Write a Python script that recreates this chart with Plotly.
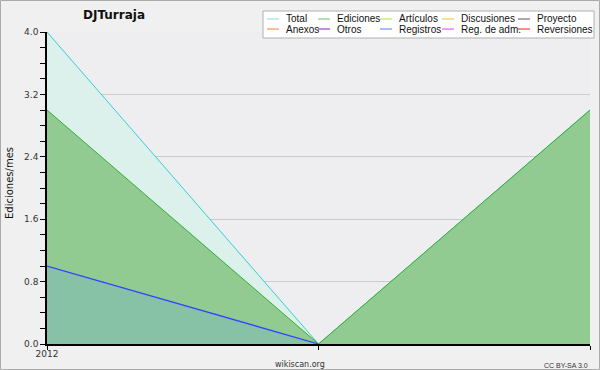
import plotly.graph_objects as go

periods = [0, 1, 2]
period_labels = ["2012", "", ""]
total = [4.0, 0.0, 3.0]
ediciones = [3.0, 0.0, 3.0]
registros = [1.0, 0.0, None]

legend_names = ["Total", "Ediciones", "Artículos", "Discusiones", "Proyecto",
                "Anexos", "Otros", "Registros", "Reg. de adm.", "Reversiones"]
legend_colors = ["#7fdede", "#66c266", "#b8e030", "#f0c020", "#555555",
                 "#f08030", "#8020d0", "#6070f0", "#e040e0", "#f02020"]

W, H = 600, 370
L, R, T, B = 47, 10, 32, 26
PW, PH = W - L - R, H - T - B


def px(x):
    return (x - L) / PW


def py(y):
    return (H - B - y) / PH


fig = go.Figure()
fig.add_trace(go.Scatter(x=periods, y=total, mode="lines", fill="tozeroy",
                         line=dict(color="#30d0d0", width=1),
                         fillcolor="#dcf1eb", showlegend=False))
fig.add_trace(go.Scatter(x=periods, y=ediciones, mode="lines", fill="tozeroy",
                         line=dict(color="#30b030", width=1),
                         fillcolor="#92cb92", showlegend=False))
fig.add_trace(go.Scatter(x=periods, y=registros, mode="lines", fill="tozeroy",
                         line=dict(color="#3344ff", width=1.3),
                         fillcolor="#88c2a6", showlegend=False))

shapes = []
annotations = []
# outer border
shapes.append(dict(type="rect", xref="paper", yref="paper",
                   x0=px(0.5), x1=px(W - 0.5), y0=py(H - 0.5), y1=py(0.5),
                   line=dict(color="#aaaaaa", width=1), fillcolor="rgba(0,0,0,0)",
                   layer="above"))
# legend box
shapes.append(dict(type="rect", xref="paper", yref="paper",
                   x0=px(263), x1=px(594), y0=py(38), y1=py(11),
                   line=dict(color="#b0b0b0", width=1), fillcolor="#ffffff",
                   layer="above"))
col_line_x = [267, 318, 380, 442, 518]
row_y = [19, 29]
for i, (name, col) in enumerate(zip(legend_names, legend_colors)):
    r, c = divmod(i, 5)
    x0 = col_line_x[c]
    y = row_y[r]
    shapes.append(dict(type="line", xref="paper", yref="paper",
                       x0=px(x0), x1=px(x0 + 12), y0=py(y), y1=py(y),
                       line=dict(color=col, width=1), layer="above"))
    annotations.append(dict(text=name, xref="paper", yref="paper",
                            x=px(x0 + 17), y=py(y), xanchor="left", yanchor="middle",
                            showarrow=False,
                            font=dict(family="Liberation Sans", size=10, color="#111111")))

annotations += [
    dict(text="<b>DJTurraja</b>", xref="paper", yref="paper", x=px(114), y=py(15),
         xanchor="center", yanchor="middle", showarrow=False,
         font=dict(size=12, color="#111111")),
    dict(text="Ediciones/mes", xref="paper", yref="paper", x=px(10), y=py(183),
         xanchor="center", yanchor="middle", textangle=-90, showarrow=False,
         font=dict(size=10, color="#111111")),
    dict(text="wikiscan.org", xref="paper", yref="paper", x=px(300), y=py(364),
         xanchor="center", yanchor="middle", showarrow=False,
         font=dict(size=8, color="#333333")),
    dict(text="CC BY-SA 3.0", xref="paper", yref="paper", x=px(590), y=py(365),
         xanchor="right", yanchor="middle", showarrow=False,
         font=dict(family="Liberation Sans", size=7, color="#333333")),
]

fig.update_layout(
    width=W, height=H,
    margin=dict(l=L, r=R, t=T, b=B),
    paper_bgcolor="#f0f0f0", plot_bgcolor="#eeeef0",
    font=dict(family="DejaVu Sans", color="#333333"),
    shapes=shapes, annotations=annotations, showlegend=False,
    xaxis=dict(range=[0, 2], tickvals=periods, ticktext=period_labels,
               ticks="outside", ticklen=4, tickcolor="#000000", showgrid=False,
               showline=True, linecolor="#000000", linewidth=1.5, zeroline=False,
               tickfont=dict(size=9, color="#333333"), fixedrange=True,
               ticklabelstandoff=-4,
               layer="above traces"),
    yaxis=dict(range=[0, 4], tickvals=[0, 0.8, 1.6, 2.4, 3.2, 4.0],
               ticktext=["0.0", "0.8", "1.6", "2.4", "3.2", "4.0"],
               ticks="outside", ticklen=5, tickcolor="#000000",
               showgrid=True, gridcolor="rgba(180,180,180,0.6)", gridwidth=1,
               showline=True, linecolor="#000000", linewidth=1.5, zeroline=False,
               tickfont=dict(size=9, color="#333333"), fixedrange=True,
               minor=dict(dtick=0.2, ticks="outside", ticklen=5, tickcolor="#000000",
                          showgrid=False),
               layer="above traces"),
)

fig.write_html("out.html")
